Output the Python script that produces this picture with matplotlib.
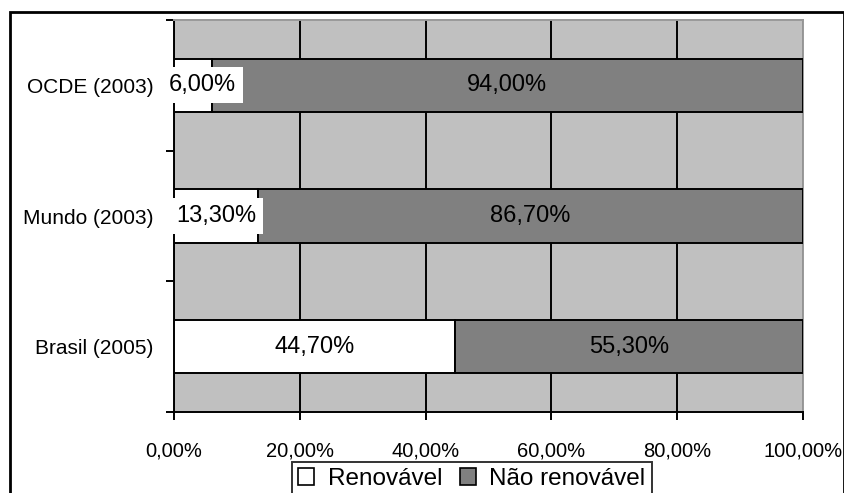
import matplotlib
matplotlib.use("Agg")
import matplotlib.pyplot as plt
from matplotlib.patches import Patch, Rectangle

plt.rcParams['font.family'] = ['Liberation Sans', 'DejaVu Sans']

# bottom-to-top order on the y axis
categories = ["Brasil (2005)", "Mundo (2003)", "OCDE (2003)"]
renovavel = [44.7, 13.3, 6.0]
nao_renovavel = [55.3, 86.7, 94.0]
series_names = ["Renovável", "Não renovável"]
xticks = [0, 20, 40, 60, 80, 100]


def pct(v):
    return f"{v:.2f}%".replace(".", ",")


fig = plt.figure(figsize=(8.45, 4.93), dpi=100)
ax = fig.add_axes([174 / 845, 1 - 412 / 493, (803 - 174) / 845, (412 - 20) / 493])
ax.set_facecolor('#c0c0c0')

ypos = list(range(len(categories)))
bh = 0.41
ax.barh(ypos, renovavel, height=bh, color='white', edgecolor='black', linewidth=1.4, zorder=3)
ax.barh(ypos, nao_renovavel, left=renovavel, height=bh, color='#808080',
        edgecolor='black', linewidth=1.4, zorder=3)

for y, r, n in zip(ypos, renovavel, nao_renovavel):
    # thin segments: keep the label clear of the category name
    ax.text(max(r / 2, 4.5), y, pct(r), ha='center', va='center', fontsize=17, zorder=5,
            bbox=dict(boxstyle='square,pad=0.3', facecolor='white', edgecolor='none'))
    ax.text(r + n / 2, y, pct(n), ha='center', va='center', fontsize=17, zorder=5)

ax.set_xlim(0, 100)
ax.set_ylim(-0.5, len(categories) - 0.5)
ax.set_xticks(xticks)
ax.set_xticklabels([pct(v) for v in xticks], fontsize=14.5)
ax.tick_params(axis='x', direction='out', length=6, width=1.4, pad=15)

# boundaries get tick marks, category names sit between them
ax.set_yticks([y - 0.5 for y in ypos] + [len(categories) - 0.5])
ax.set_yticklabels([])
ax.set_yticks(ypos, minor=True)
ax.set_yticklabels(categories, minor=True, fontsize=15)
ax.tick_params(axis='y', which='major', direction='out', length=6, width=1.4)
ax.tick_params(axis='y', which='minor', length=0, pad=15)

ax.grid(axis='x', color='black', linewidth=1.4, zorder=1)
ax.set_axisbelow(True)
for side in ['left', 'bottom']:
    ax.spines[side].set_linewidth(1.4)
for side in ['top', 'right']:
    ax.spines[side].set_color('#999999')
    ax.spines[side].set_linewidth(1.4)

handles = [Patch(facecolor='white', edgecolor='black', linewidth=1.2),
           Patch(facecolor='#808080', edgecolor='black', linewidth=1.2)]
leg = fig.legend(handles, series_names, loc='upper center', ncol=2,
                 bbox_to_anchor=(472 / 845, 1 - 462 / 493), borderaxespad=0,
                 fontsize=17.5, handlelength=0.65, handleheight=0.65,
                 handletextpad=0.55, columnspacing=0.75, borderpad=0.25,
                 fancybox=False, frameon=True, edgecolor='black')
leg.get_frame().set_linewidth(1.4)

# chart frame
fig.patches.append(Rectangle((10 / 845, -0.1), (844 - 10) / 845, 1.1 - 12 / 493,
                             transform=fig.transFigure, fill=False,
                             edgecolor='black', linewidth=2, clip_on=False))

fig.savefig("out.png", dpi=100)
